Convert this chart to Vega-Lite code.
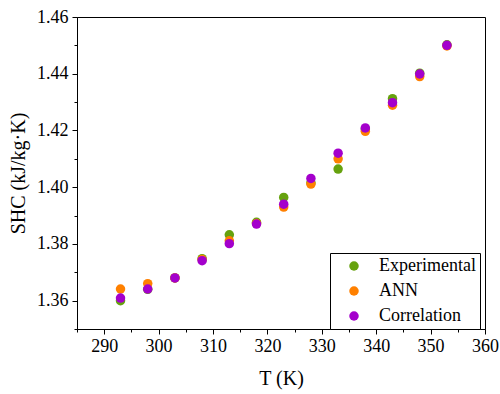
{
  "$schema": "https://vega.github.io/schema/vega-lite/v6.json",
  "width": 408,
  "height": 312,
  "autosize": {"type": "none"},
  "padding": {"left": 77, "top": 17, "right": 15, "bottom": 65},
  "background": "white",
  "config": {
    "view": {"stroke": "black", "strokeWidth": 1},
    "font": "Liberation Serif",
    "axis": {
      "labelFont": "Liberation Serif",
      "titleFont": "Liberation Serif",
      "labelFontSize": 18,
      "titleFontSize": 20,
      "titleFontWeight": "normal",
      "labelColor": "black",
      "titleColor": "black",
      "domainColor": "black",
      "tickColor": "black",
      "grid": false
    }
  },
  "data": {
    "values": [
      {"T": 293, "SHC": 1.3600, "Series": "Experimental"},
      {"T": 298, "SHC": 1.3640, "Series": "Experimental"},
      {"T": 303, "SHC": 1.3680, "Series": "Experimental"},
      {"T": 308, "SHC": 1.3748, "Series": "Experimental"},
      {"T": 313, "SHC": 1.3832, "Series": "Experimental"},
      {"T": 318, "SHC": 1.3876, "Series": "Experimental"},
      {"T": 323, "SHC": 1.3964, "Series": "Experimental"},
      {"T": 328, "SHC": 1.4015, "Series": "Experimental"},
      {"T": 333, "SHC": 1.4064, "Series": "Experimental"},
      {"T": 338, "SHC": 1.4205, "Series": "Experimental"},
      {"T": 343, "SHC": 1.4312, "Series": "Experimental"},
      {"T": 348, "SHC": 1.4402, "Series": "Experimental"},
      {"T": 353, "SHC": 1.4502, "Series": "Experimental"},
      {"T": 293, "SHC": 1.3641, "Series": "ANN"},
      {"T": 298, "SHC": 1.3660, "Series": "ANN"},
      {"T": 303, "SHC": 1.3680, "Series": "ANN"},
      {"T": 308, "SHC": 1.3745, "Series": "ANN"},
      {"T": 313, "SHC": 1.3811, "Series": "ANN"},
      {"T": 318, "SHC": 1.3872, "Series": "ANN"},
      {"T": 323, "SHC": 1.3930, "Series": "ANN"},
      {"T": 328, "SHC": 1.4011, "Series": "ANN"},
      {"T": 333, "SHC": 1.4100, "Series": "ANN"},
      {"T": 338, "SHC": 1.4197, "Series": "ANN"},
      {"T": 343, "SHC": 1.4289, "Series": "ANN"},
      {"T": 348, "SHC": 1.4390, "Series": "ANN"},
      {"T": 353, "SHC": 1.4498, "Series": "ANN"},
      {"T": 293, "SHC": 1.3609, "Series": "Correlation"},
      {"T": 298, "SHC": 1.3641, "Series": "Correlation"},
      {"T": 303, "SHC": 1.3680, "Series": "Correlation"},
      {"T": 308, "SHC": 1.3741, "Series": "Correlation"},
      {"T": 313, "SHC": 1.3801, "Series": "Correlation"},
      {"T": 318, "SHC": 1.3870, "Series": "Correlation"},
      {"T": 323, "SHC": 1.3940, "Series": "Correlation"},
      {"T": 328, "SHC": 1.4031, "Series": "Correlation"},
      {"T": 333, "SHC": 1.4120, "Series": "Correlation"},
      {"T": 338, "SHC": 1.4209, "Series": "Correlation"},
      {"T": 343, "SHC": 1.4298, "Series": "Correlation"},
      {"T": 348, "SHC": 1.4399, "Series": "Correlation"},
      {"T": 353, "SHC": 1.4500, "Series": "Correlation"}
    ]
  },
  "mark": {"type": "point", "filled": true, "opacity": 1, "size": 90, "shape": "circle"},
  "encoding": {
    "x": {
      "field": "T",
      "type": "quantitative",
      "scale": {"domain": [285, 360], "nice": false, "zero": false},
      "axis": {
        "title": "T (K)",
        "values": [285, 290, 295, 300, 305, 310, 315, 320, 325, 330, 335, 340, 345, 350, 355, 360],
        "labelExpr": "datum.value % 10 === 0 && datum.value > 285 ? datum.label : ''",
        "tickSize": {"condition": {"test": "datum.value % 10 !== 0", "value": 3}, "value": 5},
        "labelPadding": 3,
        "titlePadding": 13,
        "labelFlush": false,
        "labelOverlap": false
      }
    },
    "y": {
      "field": "SHC",
      "type": "quantitative",
      "scale": {"domain": [1.35, 1.46], "nice": false, "zero": false},
      "axis": {
        "title": "SHC (kJ/kg·K)",
        "values": [1.35, 1.36, 1.37, 1.38, 1.39, 1.40, 1.41, 1.42, 1.43, 1.44, 1.45, 1.46],
        "format": ".2f",
        "labelExpr": "round(datum.value * 100) % 2 === 0 ? datum.label : ''",
        "tickSize": {"condition": {"test": "round(datum.value * 100) % 2 !== 0", "value": 3}, "value": 5},
        "labelPadding": 4,
        "titlePadding": 8,
        "labelFlush": false,
        "labelOverlap": false
      }
    },
    "color": {
      "field": "Series",
      "type": "nominal",
      "sort": ["Experimental", "ANN", "Correlation"],
      "scale": {"domain": ["Experimental", "ANN", "Correlation"], "range": ["#66a20e", "#ff8000", "#a400cc"]},
      "legend": {
        "title": null,
        "orient": "none",
        "legendX": 253,
        "legendY": 236,
        "strokeColor": "black",
        "fillColor": "white",
        "padding": 4,
        "symbolOffset": 11,
        "labelOffset": 16,
        "rowPadding": 7,
        "labelFont": "Liberation Serif",
        "labelFontSize": 18,
        "labelColor": "black",
        "symbolSize": 90,
        "symbolType": "circle",
        "symbolOpacity": 1
      }
    }
  }
}
